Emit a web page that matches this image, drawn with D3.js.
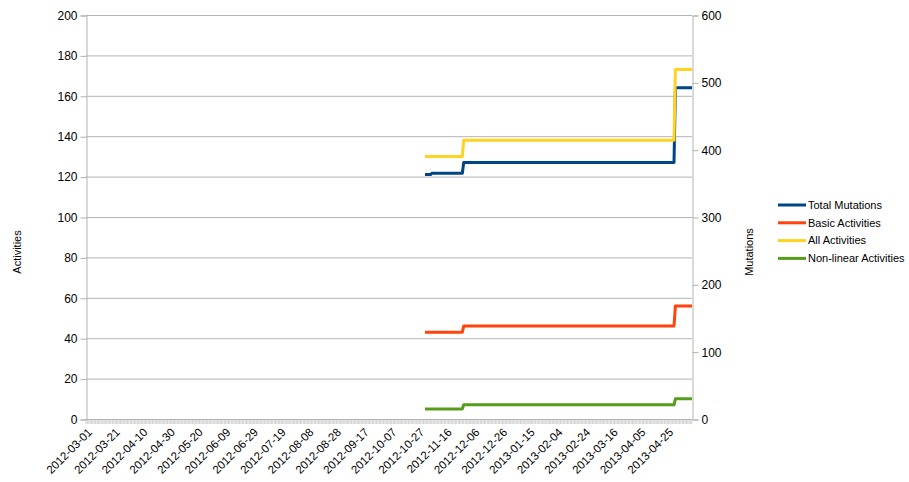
<!DOCTYPE html>
<html>
<head>
<meta charset="utf-8">
<script src="https://cdn.jsdelivr.net/npm/d3@7"></script>
<style>
  html, body { margin: 0; padding: 0; background: #fff; }
  svg { display: block; font-family: "Liberation Sans", Arial, sans-serif; }
</style>
</head>
<body>
<svg id="chart" width="909" height="482"></svg>
<script>
// Sample dates (step changes) shared by every series
const dates = ["2012-11-01", "2012-11-05", "2012-11-06", "2012-11-28", "2012-11-29", "2013-04-30", "2013-05-01", "2013-05-13"];

// Series values
const totalMutations   = [363, 363, 365, 365, 381, 381, 492, 492]; // right axis
const basicActivities  = [43, 43, 43, 43, 46, 46, 56, 56];
const allActivities    = [130, 130, 130, 130, 138, 138, 173, 173];
const nonLinearActs    = [5, 5, 5, 5, 7, 7, 10, 10];

// Category axis range and labelled dates
const axisStart = "2012-03-01";
const axisEnd = "2013-05-13";
const dateLabels = ["2012-03-01", "2012-03-21", "2012-04-10", "2012-04-30", "2012-05-20", "2012-06-09",
  "2012-06-29", "2012-07-19", "2012-08-08", "2012-08-28", "2012-09-17", "2012-10-07", "2012-10-27",
  "2012-11-16", "2012-12-06", "2012-12-26", "2013-01-15", "2013-02-04", "2013-02-24", "2013-03-16",
  "2013-04-05", "2013-04-25"];

const leftTicks = [0, 20, 40, 60, 80, 100, 120, 140, 160, 180, 200];
const rightTicks = [0, 100, 200, 300, 400, 500, 600];

const seriesNames = ["Total Mutations", "Basic Activities", "All Activities", "Non-linear Activities"];
const seriesColors = ["#004586", "#ff420e", "#ffd320", "#579d1c"];

const parse = d3.utcParse("%Y-%m-%d");
const svg = d3.select("#chart");

const plot = { left: 86, right: 692, top: 15, bottom: 419 };
const fontSize = 11;

const x = d3.scaleUtc().domain([parse(axisStart), parse(axisEnd)]).range([plot.left, plot.right]);
const yL = d3.scaleLinear().domain([0, 200]).range([plot.bottom, plot.top]);
const yR = d3.scaleLinear().domain([0, 600]).range([plot.bottom, plot.top]);

const gridColor = "#b3b3b3";
const textColor = "#000";

// horizontal grid lines
svg.append("g").selectAll("line").data(leftTicks).join("line")
  .attr("x1", plot.left).attr("x2", plot.right)
  .attr("y1", d => yL(d) + 0.5).attr("y2", d => yL(d) + 0.5)
  .attr("stroke", gridColor).attr("stroke-width", 1);

// left axis
const leftAxis = svg.append("g").attr("transform", `translate(${plot.left + 0.5},0.5)`)
  .call(d3.axisLeft(yL).tickValues(leftTicks).tickSize(6).tickPadding(3).tickFormat(d3.format("d")));
// right axis
const rightAxis = svg.append("g").attr("transform", `translate(${plot.right + 0.5},0.5)`)
  .call(d3.axisRight(yR).tickValues(rightTicks).tickSize(6).tickPadding(3).tickFormat(d3.format("d")));

[leftAxis, rightAxis].forEach(g => {
  g.select(".domain").attr("stroke", gridColor);
  g.selectAll(".tick line").attr("stroke", gridColor);
  g.selectAll(".tick text").attr("fill", textColor).attr("font-size", fontSize + 1)
    .attr("font-family", "'Liberation Sans', Arial, sans-serif");
});

// bottom axis: one tick per day, labels every 20 days
const days = d3.utcDay.range(parse(axisStart), d3.utcDay.offset(parse(axisEnd), 1));
const bottom = svg.append("g");
bottom.append("line")
  .attr("x1", plot.left).attr("x2", plot.right)
  .attr("y1", plot.bottom + 0.5).attr("y2", plot.bottom + 0.5)
  .attr("stroke", gridColor);
bottom.selectAll("line.day").data(days).join("line").attr("class", "day")
  .attr("x1", d => x(d)).attr("x2", d => x(d))
  .attr("y1", plot.bottom).attr("y2", plot.bottom + 5)
  .attr("stroke", gridColor).attr("stroke-width", 0.6);
bottom.selectAll("text").data(dateLabels).join("text")
  .attr("transform", d => `translate(${x(parse(d)) + 4},${plot.bottom + 11}) rotate(-45)`)
  .attr("text-anchor", "end")
  .attr("dy", "0.35em")
  .attr("font-size", fontSize + 0.5)
  .attr("fill", textColor)
  .text(d => d);

// series lines
const seriesData = [
  { values: totalMutations, y: yR },
  { values: basicActivities, y: yL },
  { values: allActivities, y: yL },
  { values: nonLinearActs, y: yL }
];
seriesData.forEach((s, i) => {
  const pts = dates.map((d, j) => [x(parse(d)), s.y(s.values[j])]);
  svg.append("path")
    .attr("d", d3.line()(pts))
    .attr("fill", "none")
    .attr("stroke", seriesColors[i])
    .attr("stroke-width", 3)
    .attr("stroke-linejoin", "round");
});

// axis titles
svg.append("text")
  .attr("transform", "translate(21,252) rotate(-90)")
  .attr("text-anchor", "middle").attr("font-size", fontSize).attr("fill", textColor)
  .text("Activities");
svg.append("text")
  .attr("transform", "translate(753,252) rotate(-90)")
  .attr("text-anchor", "middle").attr("font-size", fontSize).attr("fill", textColor)
  .text("Mutations");

// legend
const legend = svg.append("g");
seriesNames.forEach((name, i) => {
  const yy = 205 + i * 17.8;
  legend.append("line")
    .attr("x1", 778).attr("x2", 806).attr("y1", yy).attr("y2", yy)
    .attr("stroke", seriesColors[i]).attr("stroke-width", 3);
  legend.append("text")
    .attr("x", 808).attr("y", yy).attr("dy", "0.35em")
    .attr("font-size", fontSize).attr("fill", textColor)
    .text(name);
});
</script>
</body>
</html>
